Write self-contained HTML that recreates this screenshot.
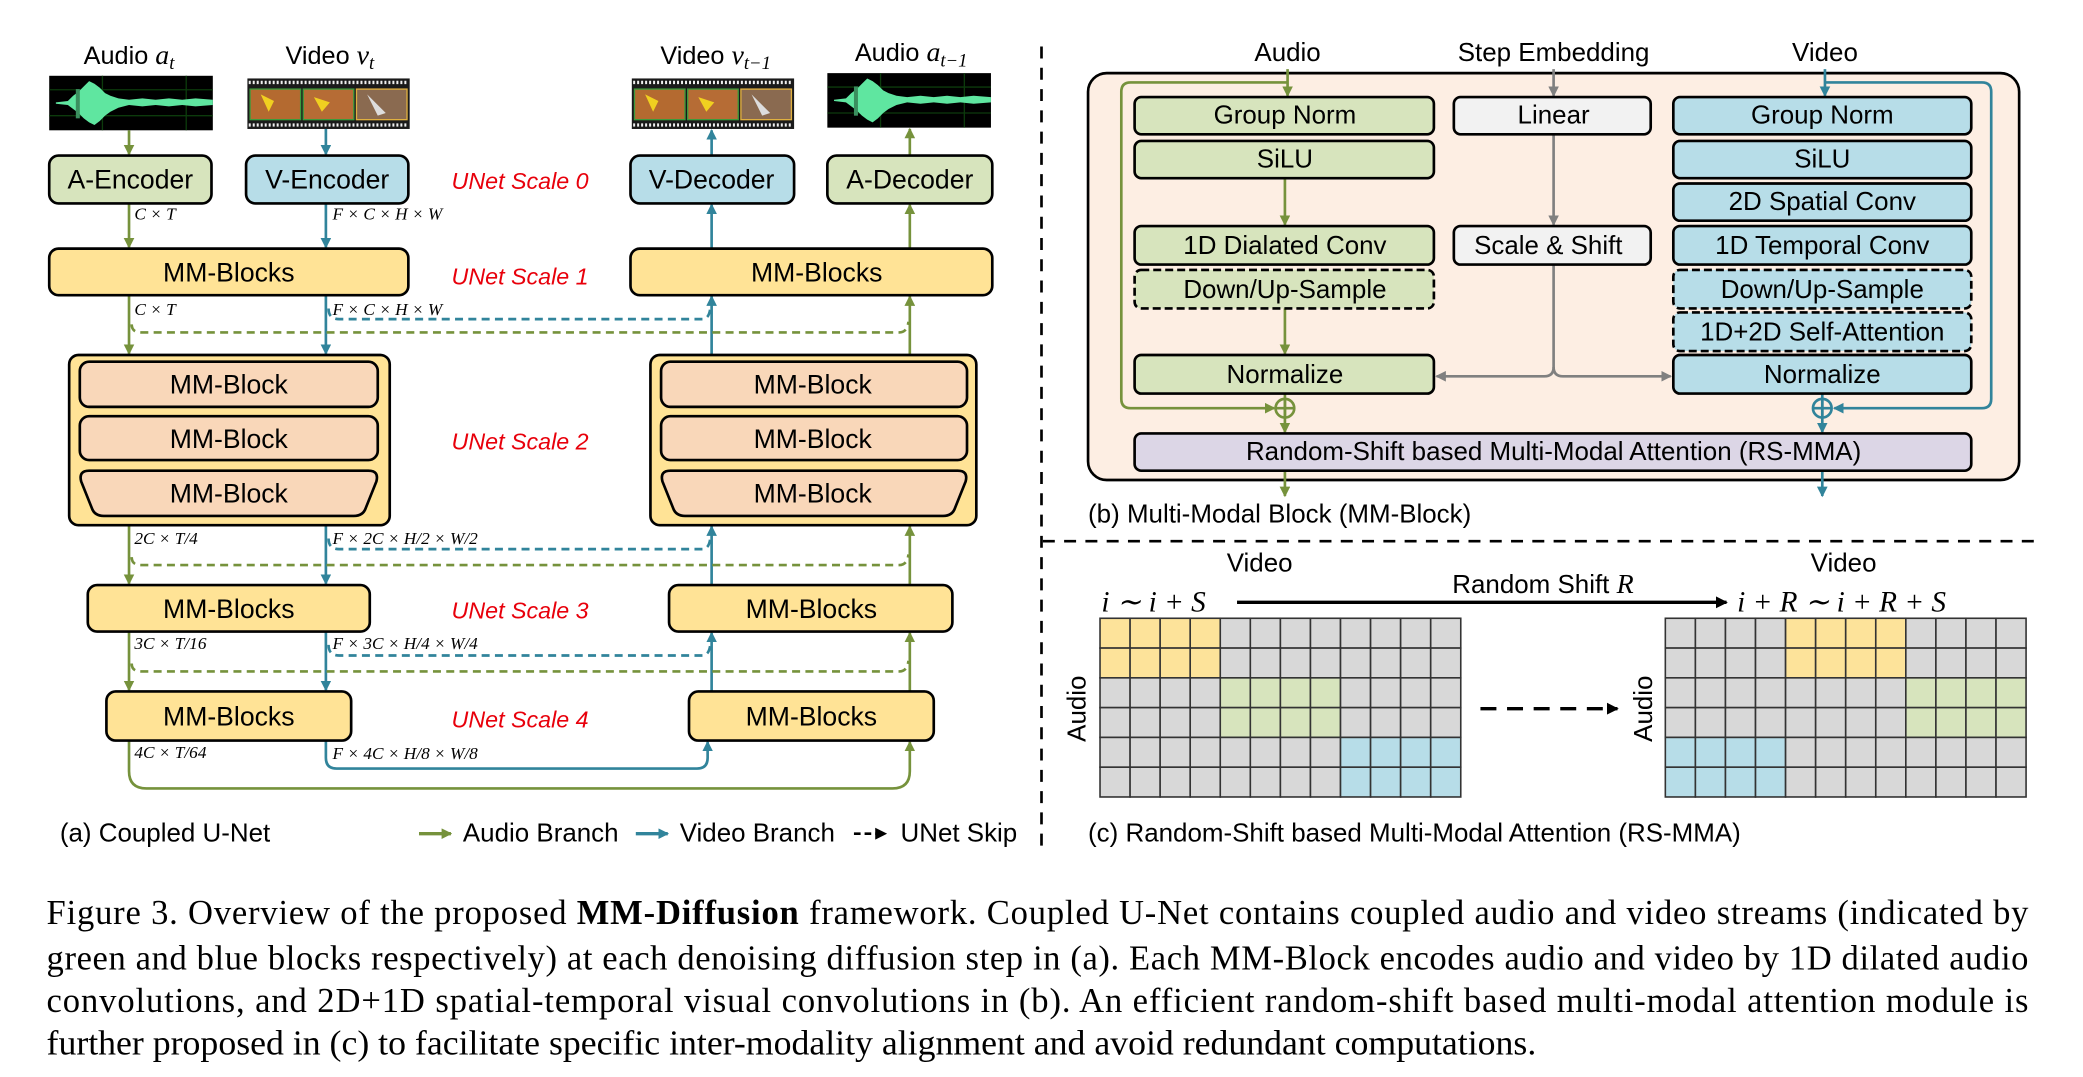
<!DOCTYPE html>
<html><head><meta charset="utf-8"><style>
html,body{margin:0;padding:0;background:#fff;}
svg{display:block;}
text{font-family:"Liberation Sans",sans-serif;}
.s{font-family:"Liberation Serif",serif;}
</style></head><body>
<svg width="2083" height="1077" viewBox="0 0 1566 810" preserveAspectRatio="none" xmlns="http://www.w3.org/2000/svg">
<defs>
<marker id="ag" markerWidth="8" markerHeight="8" refX="7" refY="4" orient="auto" markerUnits="userSpaceOnUse"><path d="M0,0 L8,4 L0,8 z" fill="#76923c"/></marker>
<marker id="ab" markerWidth="8" markerHeight="8" refX="7" refY="4" orient="auto" markerUnits="userSpaceOnUse"><path d="M0,0 L8,4 L0,8 z" fill="#31849b"/></marker>
<marker id="ay" markerWidth="8" markerHeight="8" refX="7" refY="4" orient="auto" markerUnits="userSpaceOnUse"><path d="M0,0 L8,4 L0,8 z" fill="#808080"/></marker>
<marker id="ak" markerWidth="9" markerHeight="9" refX="8" refY="4.5" orient="auto" markerUnits="userSpaceOnUse"><path d="M0,0 L9,4.5 L0,9 z" fill="#000"/></marker>
<g id="wave">
<rect x="0" y="0" width="123" height="41" fill="#000"/>
<path d="M0,10.5H123M0,30H123M40,0V41M103,0V41" stroke="#0c3a0c" stroke-width="1"/>
<path d="M5,20 L14,19 L18,15 L22,12 L26,8 L30,4 L34,6 L38,9 L42,13 L46,15 L52,17 L60,18 L70,17 L80,18 L90,17 L100,18 L110,17 L123,18 L123,22 L110,23 L100,22 L90,23 L80,22 L70,23 L60,22 L52,24 L46,27 L42,30 L38,34 L34,37 L30,35 L26,32 L22,28 L18,25 L14,22 L5,21 Z" fill="#5fe6a0"/>
<rect x="20" y="10" width="3" height="22" fill="#3b8f5f"/>
</g>
<g id="film">
<rect x="0" y="0" width="122" height="38" fill="#1a1a1a"/>
<path d="M1,3H121M1,35H121" stroke="#eee" stroke-width="2.5" stroke-dasharray="1.5 1.5"/>
<rect x="2" y="8" width="38" height="23" fill="#b46a30" stroke="#3c9a3c" stroke-width="1"/>
<rect x="42" y="8" width="38" height="23" fill="#b66c35" stroke="#3c9a3c" stroke-width="1"/>
<rect x="82" y="8" width="38" height="23" fill="#8a6a50" stroke="#e0b040" stroke-width="1"/>
<path d="M10,12 l10,5 l-4,8z M50,14 l12,4 l-6,7z" fill="#f0d020"/>
<path d="M90,12 l14,14 l-6,2z" fill="#ddd"/>
</g>
</defs>

<!-- ========== (a) ========== -->
<g font-size="19">
<text x="97" y="48" text-anchor="middle">Audio <tspan class="s" font-style="italic" font-size="21">a</tspan><tspan class="s" font-style="italic" font-size="14" dy="4">t</tspan></text>
<text x="248" y="48" text-anchor="middle">Video  <tspan class="s" font-style="italic" font-size="21">v</tspan><tspan class="s" font-style="italic" font-size="14" dy="4">t</tspan></text>
<text x="538" y="48" text-anchor="middle">Video  <tspan class="s" font-style="italic" font-size="21">v</tspan><tspan class="s" font-style="italic" font-size="14" dy="4">t−1</tspan></text>
<text x="685" y="46" text-anchor="middle">Audio <tspan class="s" font-style="italic" font-size="21">a</tspan><tspan class="s" font-style="italic" font-size="14" dy="4">t−1</tspan></text>
</g>
<use href="#wave" x="37" y="57"/>
<use href="#film" x="186" y="59"/>
<use href="#film" x="475" y="59"/>
<use href="#wave" x="622" y="55"/>

<g fill="none" stroke-width="2">
<path d="M97,98V116" stroke="#76923c" marker-end="url(#ag)"/>
<path d="M245,97V116" stroke="#31849b" marker-end="url(#ab)"/>
<path d="M535,117V98" stroke="#31849b" marker-end="url(#ab)"/>
<path d="M684,117V97" stroke="#76923c" marker-end="url(#ag)"/>
<path d="M97,153V186" stroke="#76923c" marker-end="url(#ag)"/>
<path d="M245,153V186" stroke="#31849b" marker-end="url(#ab)"/>
<path d="M535,187V154" stroke="#31849b" marker-end="url(#ab)"/>
<path d="M684,187V154" stroke="#76923c" marker-end="url(#ag)"/>
<path d="M97,222V266" stroke="#76923c" marker-end="url(#ag)"/>
<path d="M245,222V266" stroke="#31849b" marker-end="url(#ab)"/>
<path d="M535,267V223" stroke="#31849b" marker-end="url(#ab)"/>
<path d="M684,267V223" stroke="#76923c" marker-end="url(#ag)"/>
<path d="M97,395V439" stroke="#76923c" marker-end="url(#ag)"/>
<path d="M245,395V439" stroke="#31849b" marker-end="url(#ab)"/>
<path d="M535,440V396" stroke="#31849b" marker-end="url(#ab)"/>
<path d="M684,440V396" stroke="#76923c" marker-end="url(#ag)"/>
<path d="M97,475V519" stroke="#76923c" marker-end="url(#ag)"/>
<path d="M245,475V519" stroke="#31849b" marker-end="url(#ab)"/>
<path d="M535,520V476" stroke="#31849b" marker-end="url(#ab)"/>
<path d="M684,520V476" stroke="#76923c" marker-end="url(#ag)"/>
<path d="M245,557V570Q245,578 253,578H524Q532,578 532,570V558" stroke="#31849b" marker-end="url(#ab)"/>
<path d="M97,557V580Q97,593 110,593H671Q684,593 684,580V558" stroke="#76923c" marker-end="url(#ag)"/>
<g stroke-dasharray="6 4">
<path d="M247,232Q247,240 255,240H528Q533,240 534,232" stroke="#31849b"/>
<path d="M99,244Q99,250 106,250H676Q682,250 683,242" stroke="#76923c"/>
<path d="M247,405Q247,413 255,413H528Q533,413 534,405" stroke="#31849b"/>
<path d="M99,419Q99,425 106,425H676Q682,425 683,417" stroke="#76923c"/>
<path d="M247,485Q247,493 255,493H528Q533,493 534,485" stroke="#31849b"/>
<path d="M99,499Q99,505 106,505H676Q682,505 683,497" stroke="#76923c"/>
</g>
</g>

<g stroke="#000" stroke-width="2">
<rect x="37" y="117" width="122" height="36" rx="7" fill="#d7e4bd"/>
<rect x="185" y="117" width="122" height="36" rx="7" fill="#b7dde8"/>
<rect x="474" y="117" width="123" height="36" rx="7" fill="#b7dde8"/>
<rect x="622" y="117" width="124" height="36" rx="7" fill="#d7e4bd"/>
<rect x="37" y="187" width="270" height="35" rx="7" fill="#ffe396"/>
<rect x="474" y="187" width="272" height="35" rx="7" fill="#ffe396"/>
<rect x="52" y="267" width="241" height="128" rx="7" fill="#ffe396"/>
<rect x="489" y="267" width="245" height="128" rx="7" fill="#ffe396"/>
<rect x="60" y="272" width="224" height="34" rx="7" fill="#f9d7b9"/>
<rect x="60" y="313" width="224" height="33" rx="7" fill="#f9d7b9"/>
<path d="M67,354H277Q285,354 283,362L275,382Q273,388 266,388H78Q71,388 69,382L61,362Q59,354 67,354Z" fill="#f9d7b9"/>
<rect x="497" y="272" width="230" height="34" rx="7" fill="#f9d7b9"/>
<rect x="497" y="313" width="230" height="33" rx="7" fill="#f9d7b9"/>
<path d="M504,354H720Q728,354 726,362L718,382Q716,388 709,388H515Q508,388 506,382L498,362Q496,354 504,354Z" fill="#f9d7b9"/>
<rect x="66" y="440" width="212" height="35" rx="7" fill="#ffe396"/>
<rect x="503" y="440" width="213" height="35" rx="7" fill="#ffe396"/>
<rect x="80" y="520" width="184" height="37" rx="7" fill="#ffe396"/>
<rect x="518" y="520" width="184" height="37" rx="7" fill="#ffe396"/>
</g>
<g font-size="20" text-anchor="middle" dominant-baseline="central">
<text x="98" y="135">A-Encoder</text>
<text x="246" y="135">V-Encoder</text>
<text x="535" y="135">V-Decoder</text>
<text x="684" y="135">A-Decoder</text>
<text x="172" y="205">MM-Blocks</text>
<text x="614" y="205">MM-Blocks</text>
<text x="172" y="289">MM-Block</text>
<text x="172" y="330">MM-Block</text>
<text x="172" y="371">MM-Block</text>
<text x="611" y="289">MM-Block</text>
<text x="611" y="330">MM-Block</text>
<text x="611" y="371">MM-Block</text>
<text x="172" y="458">MM-Blocks</text>
<text x="610" y="458">MM-Blocks</text>
<text x="172" y="539">MM-Blocks</text>
<text x="610" y="539">MM-Blocks</text>
</g>
<g font-size="17.5" fill="#e8000b" font-style="italic" text-anchor="middle" dominant-baseline="central">
<text x="391" y="136">UNet Scale 0</text>
<text x="391" y="208">UNet Scale 1</text>
<text x="391" y="332">UNet Scale 2</text>
<text x="391" y="459">UNet Scale 3</text>
<text x="391" y="541">UNet Scale 4</text>
</g>
<g font-size="13" font-style="italic">
<text class="s" x="101" y="165">C × T</text>
<text class="s" x="250" y="165">F × C × H × W</text>
<text class="s" x="101" y="237">C × T</text>
<text class="s" x="250" y="237">F × C × H × W</text>
<text class="s" x="101" y="409">2C × T/4</text>
<text class="s" x="250" y="409">F × 2C × H/2 × W/2</text>
<text class="s" x="101" y="488">3C × T/16</text>
<text class="s" x="250" y="488">F × 3C × H/4 × W/4</text>
<text class="s" x="101" y="570">4C × T/64</text>
<text class="s" x="250" y="571">F × 4C × H/8 × W/8</text>
</g>
<g font-size="19.5">
<text x="45" y="633">(a) Coupled U-Net</text>
<path d="M315,627H339" stroke="#76923c" stroke-width="2.5" marker-end="url(#ag)"/>
<text x="348" y="633">Audio Branch</text>
<path d="M478,627H502" stroke="#31849b" stroke-width="2.5" marker-end="url(#ab)"/>
<text x="511" y="633">Video Branch</text>
<path d="M642,627H666" stroke="#000" stroke-width="2" stroke-dasharray="5 3" marker-end="url(#ak)"/>
<text x="677" y="633">UNet Skip</text>
</g>

<path d="M783,35V640" stroke="#000" stroke-width="2" stroke-dasharray="9 7"/>
<path d="M784,407H1530" stroke="#000" stroke-width="2" stroke-dasharray="9 7"/>

<!-- ========== (b) ========== -->
<g font-size="19.5" text-anchor="middle">
<text x="968" y="46">Audio</text>
<text x="1168" y="46">Step Embedding</text>
<text x="1372" y="46">Video</text>
</g>
<rect x="818" y="55" width="700" height="306" rx="14" fill="#fdeee3" stroke="#000" stroke-width="2"/>
<g fill="none" stroke-width="2">
<path d="M968,52V72" stroke="#76923c" marker-end="url(#ag)"/>
<path d="M968,62H850Q843,62 843,69V300Q843,307 850,307H958" stroke="#76923c" marker-end="url(#ag)"/>
<path d="M966,134V169" stroke="#76923c" marker-end="url(#ag)"/>
<path d="M966,232V266" stroke="#76923c" marker-end="url(#ag)"/>
<path d="M966,296V325" stroke="#76923c" marker-end="url(#ag)"/>
<path d="M966,354V373" stroke="#76923c" marker-end="url(#ag)"/>
<path d="M1372,52V72" stroke="#31849b" marker-end="url(#ab)"/>
<path d="M1372,62H1490Q1497,62 1497,69V300Q1497,307 1490,307H1379" stroke="#31849b" marker-end="url(#ab)"/>
<path d="M1370,296V325" stroke="#31849b" marker-end="url(#ab)"/>
<path d="M1370,354V373" stroke="#31849b" marker-end="url(#ab)"/>
<path d="M1168,52V72" stroke="#808080" marker-end="url(#ay)"/>
<path d="M1168,101V169" stroke="#808080" marker-end="url(#ay)"/>
<path d="M1168,199V276Q1168,283 1161,283H1080" stroke="#808080" marker-end="url(#ay)"/>
<path d="M1168,276Q1168,283 1175,283H1256" stroke="#808080" marker-end="url(#ay)"/>
<circle cx="966" cy="307" r="7" stroke="#76923c"/>
<path d="M959,307H973M966,300V314" stroke="#76923c"/>
<circle cx="1370" cy="307" r="7" stroke="#31849b"/>
<path d="M1363,307H1377M1370,300V314" stroke="#31849b"/>
</g>
<g stroke="#000" stroke-width="2">
<rect x="853" y="73" width="225" height="28" rx="5" fill="#d7e4bd"/>
<rect x="853" y="106" width="225" height="28" rx="5" fill="#d7e4bd"/>
<rect x="853" y="170" width="225" height="29" rx="5" fill="#d7e4bd"/>
<rect x="853" y="203" width="225" height="29" rx="5" fill="#d7e4bd" stroke-dasharray="6 3"/>
<rect x="853" y="267" width="225" height="29" rx="5" fill="#d7e4bd"/>
<rect x="1093" y="73" width="148" height="28" rx="5" fill="#f2f2f2"/>
<rect x="1093" y="170" width="148" height="29" rx="5" fill="#f2f2f2"/>
<rect x="1258" y="73" width="224" height="28" rx="5" fill="#b7dde8"/>
<rect x="1258" y="106" width="224" height="28" rx="5" fill="#b7dde8"/>
<rect x="1258" y="138" width="224" height="28" rx="5" fill="#b7dde8"/>
<rect x="1258" y="170" width="224" height="29" rx="5" fill="#b7dde8"/>
<rect x="1258" y="203" width="224" height="29" rx="5" fill="#b7dde8" stroke-dasharray="6 3"/>
<rect x="1258" y="235" width="224" height="29" rx="5" fill="#b7dde8" stroke-dasharray="6 3"/>
<rect x="1258" y="267" width="224" height="29" rx="5" fill="#b7dde8"/>
<rect x="853" y="326" width="629" height="28" rx="5" fill="#dcd6e6"/>
</g>
<g font-size="19.5" text-anchor="middle" dominant-baseline="central">
<text x="966" y="87">Group Norm</text>
<text x="966" y="120">SiLU</text>
<text x="966" y="185">1D Dialated Conv</text>
<text x="966" y="218">Down/Up-Sample</text>
<text x="966" y="282">Normalize</text>
<text x="1168" y="87">Linear</text>
<text x="1164" y="185">Scale &amp; Shift</text>
<text x="1370" y="87">Group Norm</text>
<text x="1370" y="120">SiLU</text>
<text x="1370" y="152">2D Spatial Conv</text>
<text x="1370" y="185">1D Temporal Conv</text>
<text x="1370" y="218">Down/Up-Sample</text>
<text x="1370" y="250">1D+2D Self-Attention</text>
<text x="1370" y="282">Normalize</text>
<text x="1168" y="340">Random-Shift based Multi-Modal Attention (RS-MMA)</text>
</g>
<text x="818" y="393" font-size="19.5">(b) Multi-Modal Block (MM-Block)</text>

<!-- ========== (c) ========== -->
<g font-size="19.5" text-anchor="middle">
<text x="947" y="430">Video</text>
<text x="1386" y="430">Video</text>
<text x="1160" y="446">Random Shift <tspan class="s" font-style="italic" font-size="21">R</tspan></text>
</g>
<g font-size="22" font-style="italic">
<text class="s" x="828" y="460">i ∼ i + S</text>
<text class="s" x="1306" y="460">i + R ∼ i + R + S</text>
</g>
<path d="M930,453H1298" stroke="#000" stroke-width="2.5" marker-end="url(#ak)"/>
<path d="M1113,533H1216" stroke="#000" stroke-width="2.5" stroke-dasharray="12 8" marker-end="url(#ak)"/>
<text font-size="19.5" text-anchor="middle" transform="translate(816,533) rotate(-90)">Audio</text>
<text font-size="19.5" text-anchor="middle" transform="translate(1242,533) rotate(-90)">Audio</text>
<g stroke="#333" stroke-width="1.2" id="gridL"></g>
<g stroke="#333" stroke-width="1.2" id="gridR"></g>
<script>
(function(){
 var ns="http://www.w3.org/2000/svg";
 function grid(id,x0,fn){var g=document.getElementById(id);
  for(var r=0;r<6;r++)for(var c=0;c<12;c++){var e=document.createElementNS(ns,"rect");
   e.setAttribute("x",x0+c*22.6);e.setAttribute("y",465+r*22.4);e.setAttribute("width",22.6);e.setAttribute("height",22.4);
   e.setAttribute("fill",fn(r,c));g.appendChild(e);}}
 var Y="#fde39a",G="#d7e4bd",B="#b7dde8",D="#d8d8d8";
 grid("gridL",827,function(r,c){var b=Math.floor(r/2),k=Math.floor(c/4);return b==k?(b==0?Y:b==1?G:B):D;});
 grid("gridR",1252,function(r,c){var b=Math.floor(r/2),k=Math.floor(c/4);
  if(b==0&&k==1)return Y;if(b==1&&k==2)return G;if(b==2&&k==0)return B;return D;});
})();
</script>
<text x="818" y="633" font-size="19.5">(c) Random-Shift based Multi-Modal Attention (RS-MMA)</text>

<!-- caption -->
<g font-size="26">
<text class="s" x="35" y="695" textLength="1490" lengthAdjust="spacing">Figure 3. Overview of the proposed <tspan font-weight="bold">MM-Diffusion</tspan> framework. Coupled U-Net contains coupled audio and video streams (indicated by</text>
<text class="s" x="35" y="729" textLength="1490" lengthAdjust="spacing">green and blue blocks respectively) at each denoising diffusion step in (a). Each MM-Block encodes audio and video by 1D dilated audio</text>
<text class="s" x="35" y="761" textLength="1490" lengthAdjust="spacing">convolutions, and 2D+1D spatial-temporal visual convolutions in (b). An efficient random-shift based multi-modal attention module is</text>
<text class="s" x="35" y="793" textLength="1120" lengthAdjust="spacingAndGlyphs">further proposed in (c) to facilitate specific inter-modality alignment and avoid redundant computations.</text>
</g>
</svg>
</body></html>
